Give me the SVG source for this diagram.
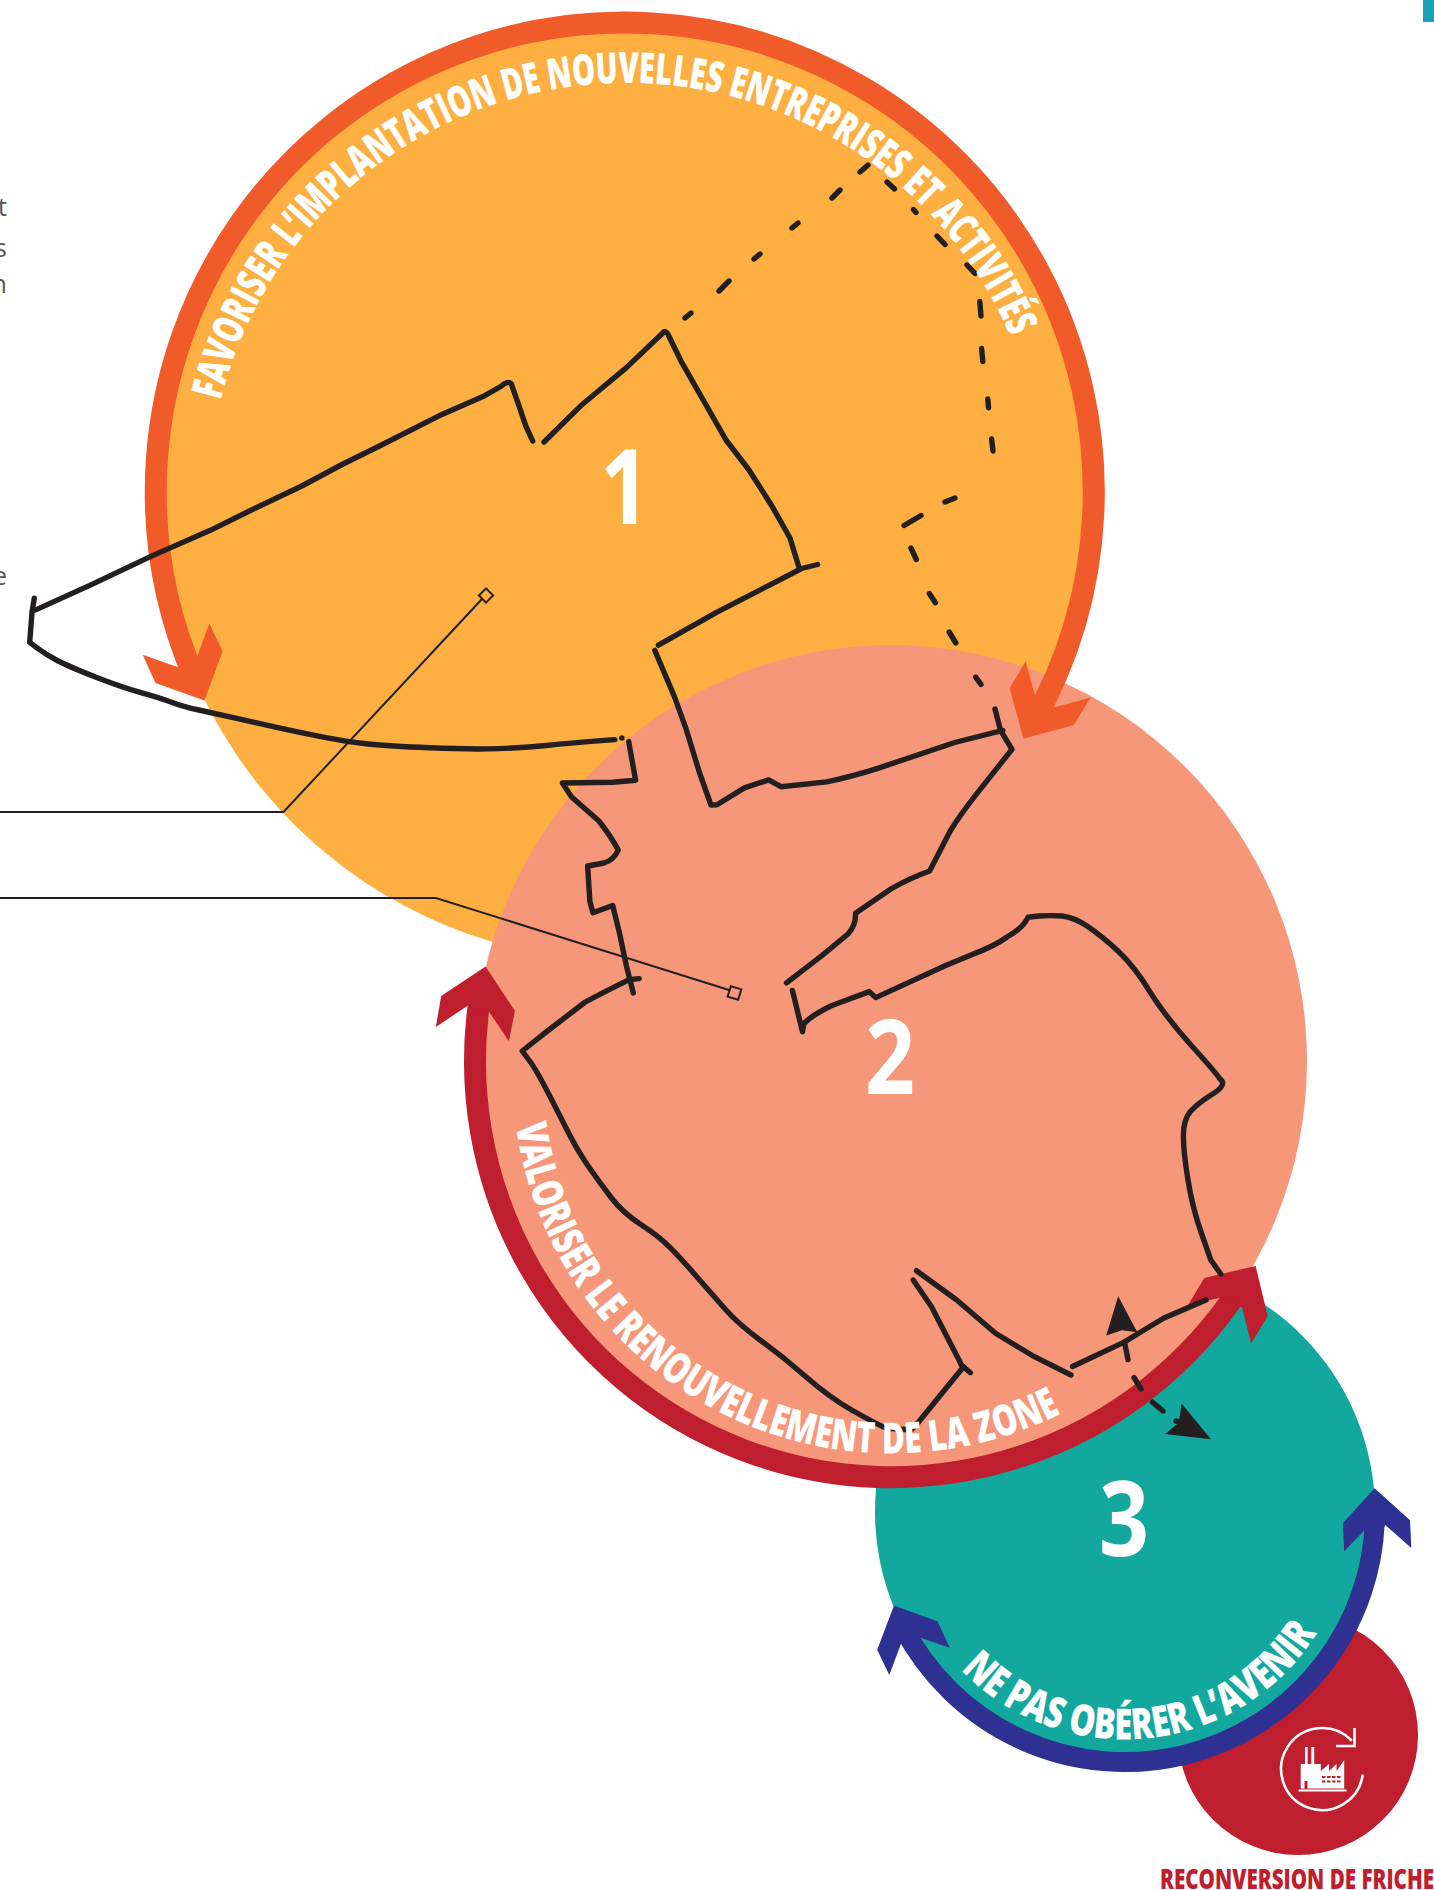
<svg xmlns="http://www.w3.org/2000/svg" width="1434" height="1890" viewBox="0 0 1434 1890">
<style>
.lab{font-family:"Open Sans","Liberation Sans",sans-serif;font-weight:800;fill:#fff}
.arc{font-size:43px}
.num{font-size:104px;font-weight:700}
.sk{fill:none;stroke:#231f20;stroke-width:5.4;stroke-linecap:round;stroke-linejoin:round}
.ds{fill:none;stroke:#231f20;stroke-width:5.4;stroke-linecap:round}
.lead{fill:none;stroke:#231f20;stroke-width:2}
.cut{font-family:"Open Sans",sans-serif;font-size:26px;fill:#58595b;text-anchor:end}
</style>
<defs>
<path id="p1" d="M220.5,400.5 A418,418 0 0 1 1038,429"/>
<path id="p2" d="M516,1125 A379,379 0 0 0 1100,1391"/>
<path id="p3" d="M960.9,1669.8 A227,227 0 0 0 1340,1584"/>
</defs>
<rect x="1423" y="0" width="11" height="22" fill="#1aa0b8"/>
<text class="cut" x="7" y="216">t</text>
<text class="cut" x="7" y="257">s</text>
<text class="cut" x="7" y="293">n</text>
<text class="cut" x="7" y="585">e</text>
<g id="node-4">
<circle cx="1298" cy="1735" r="120" fill="#be1e2d"/>
<g id="icon">
<path d="M1362.6,1775.5 A41,41 0 1 1 1351,1740" fill="none" stroke="#fff" stroke-width="2.6" stroke-linecap="round"/>
<path d="M1354.5,1728 V1746 H1336" fill="none" stroke="#fff" stroke-width="2.6"/>
<path d="M1298.5,1790.5 H1346.5" stroke="#fff" stroke-width="2"/>
<path d="M1300.7,1788.5 V1764 H1305 V1747 H1307.6 V1764 H1311.3 V1747 H1314.2 V1764 H1320.8 V1771 L1329,1764 V1771 L1336.5,1764 V1771 L1344.2,1760 V1788.5 H1307.5 V1781 H1304.5 V1788.5 Z" fill="#fff"/>
<path d="M1322,1777 H1341 M1322,1781.5 H1341" stroke="#be1e2d" stroke-width="2.2" stroke-dasharray="3.5 1.5"/>
</g>
</g>
<g id="node-3">
<circle cx="1125" cy="1512" r="250" fill="#13a89e"/>
</g>
<g id="node-1-fill"><circle cx="625" cy="492" r="469" fill="#fdb041"/></g>
<g id="node-2-fill"><circle cx="891" cy="1061" r="416" fill="#f7977a"/></g>
<g id="node-1">
<path d="M194,677 A469,469 0 1 1 1031,726" fill="none" stroke="#f15a29" stroke-width="22"/>
<polygon points="142.7,654.8 155.5,683 204.4,700.6 222.7,651.6 209.4,623.5 197.5,655.6 177.4,666.9" fill="#f15a29"/>
<polygon points="1009.6,688.3 1025.6,661.3 1034.8,695 1054,707.5 1090.6,697.5 1073.6,725.2 1023.4,738.5" fill="#f15a29"/>
</g>
<g id="node-2">
<path d="M480.3,995 A416,416 0 0 0 1241,1286" fill="none" stroke="#be1e2d" stroke-width="22"/>
<polygon points="485.6,966.6 441.2,996 435.8,1026.9 467.3,1006 489.3,1012 508.9,1041.3 514.9,1010.8" fill="#be1e2d"/>
<polygon points="1204.3,1278 1255.6,1266 1267.7,1316 1251.2,1343.6 1242,1307.4 1222.6,1297 1187.8,1305.4" fill="#be1e2d"/>
</g>
<g id="node-3-fg">
<path d="M903,1627 A250,250 0 0 0 1375,1512" fill="none" stroke="#2e3192" stroke-width="20"/>
<polygon points="894,1605.5 937.7,1621.6 949.7,1647.7 920.4,1637.7 901,1643.7 889.3,1675 877.2,1649.7" fill="#2e3192"/>
<polygon points="1374.6,1488.2 1410,1520.3 1411.3,1548 1385.6,1525.2 1366.2,1528.4 1344.2,1551.3 1342.8,1523.2" fill="#2e3192"/>
</g>
<g id="connectors">
<path class="lead" d="M0,812 H283.5 L482,599"/>
<rect class="lead" x="481" y="590.5" width="10" height="10" transform="rotate(45 486 595.5)"/>
<path class="lead" d="M0,898 H436 L729,990"/>
<rect class="lead" x="729" y="987.5" width="11" height="11" transform="rotate(17 734.5 993)"/>
<path class="sk" d="M532.7,441 L525.8,425.9 519,405.8 511.2,383.7 Q508,380 500.7,386.5 L484.7,395.7 439,415.8 379.5,446 343,464 301.8,486 246.9,512.2 210.3,530.3 150.9,556.4 91.4,584.6 35.7,609.9"/>
<path class="sk" d="M34.3,598.2 L32,612.2 29.7,642.4 L37.7,648.4 Q45.7,654.4 57.2,660.5 Q68.6,666.5 96,677.2 Q123.5,687.8 141.8,692.8 Q160,697.8 171.5,702.2 Q182.9,706.6 198.9,710 Q214.9,713.5 235.5,718.1 Q256,722.7 278.9,727.8 Q301.8,732.8 324.7,737.4 Q347.5,742 368.1,744 Q388.7,746 429.9,747.8 Q471,749.6 498.4,748.6 Q525.8,747.6 548.7,745.2 Q571.6,742.8 615,739.6"/>
<circle cx="621.9" cy="738" r="2.8" fill="#231f20"/>
<path class="sk" d="M628.7,741.6 L635.6,780.2 L612.7,782.2 L562.4,783 L571.6,797 L599,821 Q612,838 618.2,850 Q614,860 604,863 L587.6,866 L589.9,901.5 L593,912.8 L612.7,905.5 L619.6,933.6 L626.4,965.8 L633.3,993"/>
<path class="sk" d="M639.2,978.6 L628.7,979.8 Q600,994 585.3,1002 L548.7,1030 L522.2,1051 L528.6,1059.5 Q535,1068 544,1085 Q553,1102 565,1126 Q577,1150 588.5,1166.5 Q600,1183 611.5,1198 Q623,1213 641.2,1224.8 Q659.5,1236.7 670.9,1248.4 Q682.3,1260 698.3,1278.4 Q714.3,1296.7 725.8,1309.8 Q737.2,1323 760,1340 Q783,1356.7 805.9,1376.7 Q828.7,1396.7 851.6,1410 Q874.4,1423 885.8,1428 L911,1430 L917.8,1423 L963.5,1366.7"/>
<path class="sk" d="M970.4,1372.7 L961.3,1365 L959,1360 L931.5,1306.7 L913.2,1280"/>
<path class="sk" d="M916.5,1270.7 L956.7,1300 995.5,1333.3 1034.4,1356.7 1071,1375"/>
<path class="sk" d="M1072.5,1366.5 L1123.7,1342.4 Q1144,1330 1164,1318 L1206,1300"/>
<path class="sk" d="M1220.8,1274 L1210.8,1260 L1201.7,1234 Q1192.5,1208.5 1188,1180 Q1183.4,1152 1183.4,1136 Q1183.4,1120 1190,1112 Q1197,1104 1211,1095 Q1228,1085 1220,1079 Q1215.4,1072 1190,1044 Q1165,1015.7 1150,992 Q1135.4,967.5 1118,951 Q1101,935.3 1087,926 Q1073.7,917.3 1062,916 Q1050.8,915.3 1039,916 L1028,917.3 Q1023,928 1007,937 Q996,945.4 971,955 L945.6,965.5 L875.7,997.6 L869.3,991.6 L831.3,1005.7 Q812,1015 803.9,1023.7 L802.5,1031.8 L792.4,990.4"/>
<path class="sk" d="M786.5,982.8 L822.2,955.4 L848,934 Q856,925 855.5,913.3 L890.8,889 Q910,878 929.6,871 L950.2,831 Q960,815 977.6,792.7 L1012,749.3 L1000.5,730.4 L995,709"/>
<path class="sk" d="M1002.8,730.4 L954.8,742.5 L877,768.6 Q850,777 826.7,781.9 L781,786.7 L768.7,779.9 L744.4,787.9 L717,804.8 L711,805 L699.6,773 L686,728.7 L674.4,696.6 L654.8,650.4"/>
<path class="sk" d="M658.4,645.2 L717,612.2 762.7,588.6 801.6,568.5 817.6,564.5"/>
<path class="sk" d="M799.3,568.5 L790,538 L771.9,506 L749,470 L726,440 L681.3,361.6 L667.6,333.5 Q665,330 663,332.7 L626.4,367.6 L580.7,405.8 L544,442"/>
<g id="dashes">
<path class="ds" d="M685,318 L691,313 M719,291 L729,281 M754,259 L760,254 M792,228 L798,223 M832,198 L840,190 M860,172 L868,165"/>
<path class="ds" d="M887,182 L894.5,189 M913.5,209.5 L916,212.5 M937,236 L945,244.5 M967,265 L975,273.5 M979.8,301.5 L981,316 M981.6,348.5 L982.8,361.5 M987.8,399 L988.5,407.8 M991.6,439 L993,451"/>
<path class="ds" d="M955,498 L945,502 M921,515.5 L904,525.5 M911,548 L916.3,559.5 M929.3,593.5 L935.4,602.7 M949.2,632 L955.8,643 M975.7,677.2 L981,684.4"/>
<path class="ds" d="M1125,1344.5 L1128,1359.6 M1134,1377.5 L1141,1388.8 M1152.5,1402.2 L1163,1411 M1176,1421 L1184,1424"/>
<polygon points="1118.2,1296.2 1106.2,1335.5 1122,1330.3 1137.3,1332.3" fill="#231f20"/>
<polygon points="1211,1439.2 1181.6,1403.4 1178.7,1422.7 1165,1434" fill="#231f20"/>
</g>
</g>
<g id="labels">
<text class="lab arc"><textPath href="#p1" textLength="1043" lengthAdjust="spacingAndGlyphs">FAVORISER L’IMPLANTATION DE NOUVELLES ENTREPRISES ET ACTIVITÉS</textPath></text>
<text class="lab arc"><textPath href="#p2" textLength="720" lengthAdjust="spacingAndGlyphs">VALORISER LE RENOUVELLEMENT DE LA ZONE</textPath></text>
<text class="lab arc"><textPath href="#p3" textLength="412" lengthAdjust="spacingAndGlyphs">NE PAS OBÉRER L’AVENIR</textPath></text>
<text class="lab num" x="600" y="524" textLength="50" lengthAdjust="spacingAndGlyphs">1</text>
<text class="lab num" x="865" y="1094" textLength="50" lengthAdjust="spacingAndGlyphs">2</text>
<text class="lab num" x="1099" y="1556" textLength="50" lengthAdjust="spacingAndGlyphs">3</text>
<text x="1160" y="1889" font-family="'Open Sans','Liberation Sans',sans-serif" font-weight="800" font-size="29" fill="#be1e2d" textLength="274" lengthAdjust="spacingAndGlyphs">RECONVERSION DE FRICHE</text>
</g>
</svg>
